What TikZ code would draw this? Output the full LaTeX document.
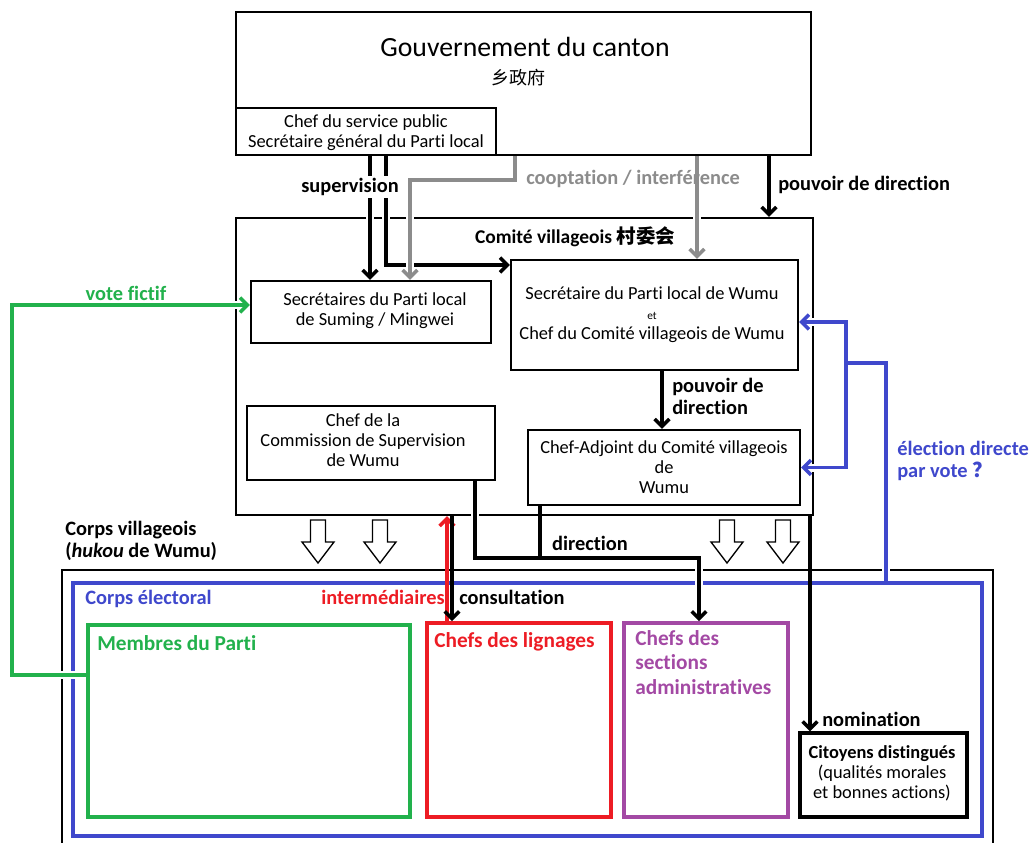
\documentclass[tikz,border=0pt]{standalone}
\usepackage{fontspec}
\setmainfont{Carlito}[Ligatures=NoCommon]
\newfontfamily\cjkfont{Noto Sans CJK SC}
\usetikzlibrary{arrows.meta}
\usetikzlibrary{fit}
\usetikzlibrary{calc}

\definecolor{votegreen}{RGB}{34,177,76}
\definecolor{ligred}{RGB}{237,28,36}
\definecolor{elecblue}{RGB}{63,72,204}
\definecolor{sectpurple}{RGB}{163,73,164}
\definecolor{coopgray}{RGB}{140,140,140}

\newcommand\txtsize{\fontsize{13.8}{15}\selectfont}
\newcommand\lblsize{\fontsize{15.3}{16.5}\selectfont\bfseries}
\newcommand\ttlsize{\fontsize{16}{18.4}\selectfont\bfseries}

\tikzset{
  box/.style={draw=black, line width=1.8pt, inner sep=0pt},
  group/.style={draw=#1, line width=2.8pt, inner sep=0pt},
  txt/.style={inner sep=0pt, align=center, font=\txtsize},
  lbl/.style={inner sep=0pt, align=left, font=\lblsize},
  ttl/.style={inner sep=0pt, align=left, font=\ttlsize},
  halo/.style={preaction={draw=white, line width=6pt, shorten <=4pt, shorten >=4pt, -}},
  link/.style={line width=2.6pt, -{Straight Barb[length=5.5pt,width=11pt]}},
  hollow/.style={draw=black, line width=1pt, fill=white},
}

\begin{document}
\begin{tikzpicture}[x=0.75pt, y=-0.75pt]
\useasboundingbox (0,0) rectangle (1033,843);

% canton
\node[box, fit={(236,12)(811,155)}] (gov) {};
\node[txt, font=\fontsize{20.8}{24}\selectfont] (govtitle) at (525,47) {Gouvernement du canton};
\node[txt, font=\cjkfont\fontsize{13.5}{15}\selectfont] (govzh) at (518,78) {乡政府};
\node[box, fit={(236,108)(496,155)}] (chef) {};
\node[txt] (cheftxt) at (366,133) {Chef du service public\\Secrétaire général du Parti local};

% comite villageois
\node[box, fit={(236,218)(813,515)}] (comite) {};
\node[lbl, font=\fontsize{14.6}{16}\selectfont\bfseries] (comtitle) at (575,237) {Comité villageois {\cjkfont 村委会}};
\node[box, fit={(251,281)(491,343)}] (secs) {};
\node[txt] (secstxt) at (375,311) {Secrétaires du Parti local\\de Suming / Mingwei};
\node[box, fit={(511,260)(798,370)}] (wumu) {};
\node[txt] (wumutxt) at (652,315) {Secrétaire du Parti local de Wumu\\{\fontsize{8.5}{9}\selectfont et}\\Chef du Comité villageois de Wumu};
\node[box, fit={(247,406)(495,480)}] (comm) {};
\node[txt] (commtxt) at (363,440) {Chef de la\\Commission de Supervision\\de Wumu};
\node[box, fit={(528,430)(800,505)}] (adj) {};
\node[txt] (adjtxt) at (664,467) {Chef-Adjoint du Comité villageois\\de\\Wumu};

% corps villageois
\node[box, fit={(62,570)(993,870)}] (corps) {};
\node[group=elecblue, fit={(73,583)(982,836)}] (elect) {};
\node[group=votegreen, fit={(88,625)(410,817)}] (memb) {};
\node[group=ligred, fit={(427,623)(611,817)}] (lign) {};
\node[group=sectpurple, fit={(624,623)(788,817)}] (sect) {};
\node[box, line width=2.6pt, fit={(800,733)(967,817)}] (cit) {};
\node[txt] (cittxt) at (882,773) {\textbf{Citoyens distingués}\\(qualités morales\\et bonnes actions)};

\foreach \x in {318,380,727,783}
  \draw[hollow] ({\x-7.5},520) -- ({\x+7.5},520) -- ({\x+7.5},542) -- ({\x+16},542)
    -- (\x,563) -- ({\x-16},542) -- ({\x-7.5},542) -- cycle;

% liens
\draw[link, halo] (chef.south -| 370,0) -- (secs.north -| 370,0);
\draw[link, halo] (chef.south -| 386,0) |- (wumu.west |- 0,265);
\draw[link, halo, coopgray] (gov.south -| 515,0) -- (515,180) -| (secs.north -| 410,0);
\draw[link, halo, coopgray] (gov.south -| 697,0) -- (wumu.north -| 697,0);
\draw[link, halo] (gov.south -| 769,0) -- (comite.north -| 769,0);
\draw[link] (wumu.south -| 662,0) -- (adj.north -| 662,0);
\draw[link, halo] (comm.south -| 475,0) |- (699,558) -- (sect.north -| 699,0);
\draw[line width=2.6pt] (adj.south -| 540,0) -- (540,558);
\draw[link, ligred] (lign.north -| 447,0) -- (comite.south -| 447,0);
\draw[link] (comite.south -| 452,0) -- (lign.north -| 452,0);
\draw[link] (comite.south -| 810,0) -- (cit.north -| 810,0);
\draw[link, halo, votegreen] (memb.west |- 0,675) -| (12,305) -- (secs.west |- 0,305);
\coordinate (bsplit) at (846,363);
\draw[link, halo, elecblue] (elect.north -| 886,0) |- (bsplit) |- (wumu.east |- 0,322);
\draw[link, halo, elecblue] (bsplit) |- (adj.east);

% etiquettes
\node[lbl, fill=white, inner sep=1.5pt] (suplbl) at (350,187) {supervision};
\node[lbl, text=coopgray] (cooplbl) at (633,179) {cooptation / interférence};
\node[lbl, anchor=west] (pouvlbl) at (778,185) {pouvoir de direction};
\node[lbl, anchor=west] (pouv2lbl) at (672,396) {pouvoir de\\direction};
\node[lbl, text=votegreen] (votelbl) at (126,293) {vote fictif};
\node[lbl, text=elecblue, anchor=west] (eleclbl) at (897,461) {élection directe\\par vote {\cjkfont ？}};
\node[lbl, anchor=west] (corpslbl) at (65,541) {Corps villageois\\(\textit{hukou} de Wumu)};
\node[lbl] (dirlbl) at (590,543) {direction};
\node[lbl, text=ligred, anchor=east] (intlbl) at (445,597) {intermédiaires};
\node[lbl, anchor=west] (conslbl) at (459,597) {consultation};
\node[lbl, anchor=west] (nomlbl) at (822,719) {nomination};
\node[lbl, text=elecblue, anchor=west] (electlbl) at (85,599) {Corps électoral};
\node[ttl, text=votegreen, anchor=west] (memblbl) at (97,643) {Membres du Parti};
\node[ttl, text=ligred, anchor=west] (lignlbl) at (434,642) {Chefs des lignages};
\node[ttl, text=sectpurple, anchor=north west] (sectlbl) at (635,630) {Chefs des\\sections\\administratives};
\end{tikzpicture}
\end{document}
